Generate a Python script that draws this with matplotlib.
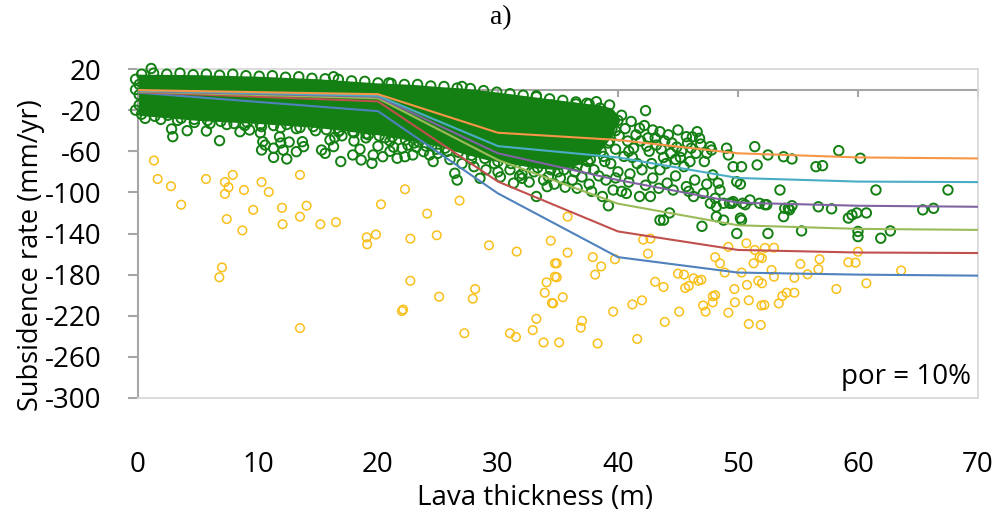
import numpy as np
import matplotlib
matplotlib.use("Agg")
import matplotlib.pyplot as plt

plt.rcParams['axes.unicode_minus'] = False
plt.rcParams['font.family'] = ['Open Sans', 'DejaVu Sans']

# model curves (lava thickness knots, subsidence rate per curve)
knots = [0, 20, 30, 40, 50, 60, 70]
curve_orange = [-0.5, -4.5, -42, -49, -62, -66, -67]
curve_cyan = [-1, -6, -55, -66, -86, -89.5, -90]
curve_purple = [-1.5, -7, -62, -88, -110, -113, -114]
curve_green = [-2, -8.5, -68.5, -111, -132, -135.5, -136.5]
curve_red = [-2.5, -11.5, -89.5, -138, -156, -158.5, -159]
curve_blue = [-3, -21, -101, -163, -178, -180, -181]

# saturated part of the green cloud (envelope)
core_x = [0, 5, 10, 15, 20, 23, 25, 27, 29, 31, 33, 35, 37, 38.5, 39.5, 40]
core_top = [15, 14.5, 13, 10.5, 6.5, 5, 3, 1.5, -1, -4, -7, -10, -13, -15, -18, -25]
core_bot = [-25, -30, -33, -37, -44, -50, -55, -62, -68, -72, -76, -78, -72, -60, -45, -30]

# rings along the top of the saturated cloud
green_top = [
    (0.3, 15), (1.3, 16), (2.4, 15), (3.5, 16), (4.6, 14.5), (5.7, 15), (6.8, 14), (7.9, 15),
    (9, 13.5), (10.1, 13), (11.2, 13.5), (12.3, 12), (13.4, 12.5), (14.5, 11), (15.6, 10.5),
    (16.7, 10), (17.8, 8.5), (18.9, 8), (20, 6.5), (21.1, 6), (22.2, 5), (23.3, 5), (24.4, 3.5),
    (25.5, 3), (26.6, 1.5), (27.7, 1), (28.8, -1), (29.9, -2.5), (31, -4), (32.1, -5.5),
    (33.2, -7), (34.3, -9), (35.4, -10.5), (36.5, -12), (37.6, -14),
    (1.1, 20.5), (16.3, 12.5), (20.9, 6.5), (27, 3), (33.2, -6), (37.4, -13.3), (38.2, -11.8),
    (39.3, -15), (42.3, -20.5), (0.1, 5), (0.1, -5), (0.1, -15), (-0.2, 0), (-0.2, 10),
    (-0.2, -20),
]

# rings along the bottom of the saturated cloud
green_bottom = [
    (0.3, -24), (1.4, -26), (2.5, -25), (3.6, -28), (4.7, -29), (5.8, -30), (6.9, -31),
    (8, -33), (9.1, -32), (10.2, -34), (11.3, -35), (12.4, -34), (13.5, -37), (14.6, -36),
    (15.7, -39), (16.8, -40), (17.9, -41), (19, -43), (20.1, -45), (21.2, -46), (22.3, -49),
    (23.4, -51), (24.5, -54), (25.6, -57), (26.7, -61), (27.8, -64), (28.9, -67), (30, -70),
    (31.1, -72), (32.2, -74), (33.3, -76), (34.4, -78), (35.5, -78), (36.6, -74), (37.7, -68),
    (38.6, -60), (39.3, -50), (39.8, -40), (40, -30),
]

# scattered green rings
green_pts = [
    (2.8, -38.3), (2.9, -45.8), (4.1, -40), (5.7, -40.3), (6.8, -49.7), (8.5, -41), (9.3, -39.3),
    (10.2, -42), (10.4, -50.7), (10.3, -58.8), (10.6, -54), (11.3, -66), (11.3, -57), (11.8, -46),
    (11.9, -52), (12.1, -58.8), (12.6, -51), (12.4, -67.5), (13.2, -60.4), (13.7, -50.7),
    (13.8, -55.5), (15.3, -58.8), (15.6, -62), (16.3, -55.5), (16.4, -46.4), (16.0, -49),
    (16.9, -70), (17.9, -63.6), (18.6, -68.5), (19.5, -71.7), (19.6, -63.6), (20.4, -65.3),
    (21.6, -66.8), (22.25, -65.3), (22.9, -63.6), (23.8, -60.4), (24.3, -63.6), (24.6, -70),
    (26.4, -81.4), (26.6, -88), (28.5, -86.3), (31.3, -91), (32.0, -86.3), (33.2, -104),
    (34.1, -94.4), (34.2, -84.7),
    (17, -45), (18, -50), (19, -47), (20, -55), (21, -50), (22, -57), (23, -52), (18.5, -58),
    (21, -60), (24, -55), (25, -62), (26, -68), (27, -72), (28, -75), (29, -78), (30, -80),
    (31, -78), (32, -82), (33, -80),
    (0.6, -28), (1.9, -29), (3.3, -30), (4.7, -32), (6.0, -33), (7.4, -34), (8.9, -35),
    (10.3, -36), (11.9, -37), (13.2, -38), (14.8, -40), (16.7, -41), (18.0, -42), (19.2, -44),
    (20.6, -47), (21.3, -56), (22.5, -54), (23.2, -56), (24.9, -58), (25.8, -60), (27.8, -68),
    (29.7, -72), (30.2, -85), (31.8, -84), (33.8, -88), (35.2, -86), (32.6, -90), (34.7, -92),
    (34.5, -15), (35, -22), (35.5, -30), (34.8, -38), (35.2, -45), (35.8, -52), (34.6, -60),
    (35.4, -66), (36, -72), (35, -80), (36.2, -88), (35.6, -95),
    (36.5, -14), (37, -20), (36.8, -27), (37.5, -34), (36.6, -41), (37.2, -48), (37.8, -55),
    (36.9, -62), (37.5, -70), (38, -78), (37, -85), (37.6, -92),
    (38.5, -18), (39, -25), (38.7, -32), (39.5, -38), (38.6, -45), (39.2, -52), (39.8, -58),
    (38.8, -65), (39.4, -72), (40, -80), (39, -88), (39.6, -97.7), (39.2, -113),
    (40.3, -25), (41.1, -31), (40.6, -38), (41.5, -44), (40.8, -50), (41.3, -57), (41.8, -37.6),
    (40.5, -65), (41.6, -72), (40.7, -101), (40.3, -99), (41.8, -104),
    (42.9, -39.3), (43.5, -41), (42.5, -47), (43.2, -54), (42.6, -60), (43.8, -66), (42.8, -72),
    (43.5, -78), (42.7, -104), (44.1, -91), (43.8, -127), (44.3, -120), (43.5, -127),
    (45, -39.3), (45.7, -45.8), (44.5, -52), (45.3, -60), (44.8, -68), (45.5, -75), (44.6, -97.7),
    (45.7, -94.4), (46.3, -104),
    (46.6, -41), (46.8, -47.4), (47.7, -55.5), (47.8, -58.8), (46.5, -62), (47.2, -70),
    (47.1, -101), (47.7, -110.6), (47.9, -83), (48.35, -91), (48.5, -97.7), (48.1, -105.7),
    (48.2, -114), (48.8, -110.6), (48.2, -123.6), (48.8, -127), (47.0, -133),
    (36.3, -18), (36.9, -33), (37.8, -40), (38.3, -50), (38.1, -60), (38.9, -70), (37.3, -77),
    (39.7, -30), (40.1, -45), (40.9, -60), (41.2, -66), (41.9, -50), (42.2, -35), (42.4, -55),
    (43.1, -47), (43.6, -58), (43.9, -50), (44.2, -44), (44.4, -62), (44.9, -56), (45.8, -52),
    (46.1, -57), (46.2, -46), (46.9, -53), (47.4, -62), (45.2, -66), (46.0, -70), (44.0, -72),
    (42.0, -78), (41.0, -82), (39.8, -86), (38.4, -84), (36.4, -80), (40.9, -90), (42.9, -86),
    (44.8, -84), (46.4, -88), (47.4, -92), (45.9, -99), (43.4, -96), (42.3, -93), (37.8, -99),
    (36.6, -96), (38.7, -104),
    (49.05, -57), (49.2, -63.6), (51.4, -55.5), (49.6, -75), (50.3, -75), (51.6, -73.3),
    (49.3, -110.6), (49.6, -109), (50.4, -110.6), (51.0, -107.4), (51.8, -110.6), (50.3, -127),
    (50.2, -125), (49.9, -140), (50.2, -92), (49.9, -89.6), (50.6, -112), (49.5, -110.6),
    (52.4, -112), (52.5, -140),
    (52.5, -63.6), (53.8, -65.3), (54.5, -67.5), (58.4, -59.4), (60.2, -66.8), (56.5, -75),
    (57.05, -74), (53.5, -97.7), (61.5, -97.7), (67.5, -97.7), (52.25, -112), (54.2, -115.5),
    (54.5, -113), (53.8, -123.6), (56.7, -114), (57.8, -116), (59.2, -125), (59.5, -122),
    (59.9, -120), (60.7, -120), (65.4, -117), (66.3, -115.5), (53.9, -115.5), (54.3, -117),
    (55.3, -137.5), (60.0, -138), (60.0, -143), (61.9, -144.6), (62.7, -137.5),
]

# yellow points
orange_pts = [
    (1.33, -69), (1.64, -87), (2.75, -94), (3.6, -112), (5.67, -87), (7.25, -90), (7.9, -83),
    (7.55, -95), (7.25, -101.5), (8.83, -97.7), (10.3, -90), (10.9, -99.6), (13.5, -83),
    (9.6, -117), (7.4, -126), (12.0, -115), (13.5, -123.6), (14.05, -113), (12.05, -131),
    (15.2, -131), (16.5, -129), (8.7, -137), (7.0, -173), (6.78, -182.6), (13.5, -232),
    (19.06, -143.7), (19.1, -150.5), (19.83, -141), (22.7, -145), (24.9, -141.7), (29.25, -151.5),
    (31.56, -157.6), (34.4, -147), (22.7, -186), (25.1, -201.5), (28.1, -194), (27.9, -203.4),
    (22.1, -214), (22.0, -215.4), (27.2, -237), (31.0, -237), (31.5, -240.7), (32.9, -234),
    (33.2, -223), (33.8, -246), (34.05, -187.5), (33.9, -197.6), (34.5, -207.6), (34.75, -169),
    (34.75, -182), (35.1, -246), (22.25, -97), (20.25, -111.6), (24.1, -120.7), (26.8, -108),
    (35.8, -158.6), (35.4, -202), (37.0, -225), (36.9, -231.6), (38.3, -247), (37.9, -163),
    (38.6, -172), (38.1, -180), (39.75, -165), (42.1, -146), (42.7, -145), (42.5, -159.6),
    (39.6, -216), (41.2, -209), (42.0, -205), (41.6, -242.6), (43.1, -187), (43.8, -192),
    (45.1, -216), (43.9, -226), (45.0, -179), (45.5, -180), (45.6, -193), (45.9, -191),
    (46.3, -183.6), (46.7, -186), (46.95, -185), (47.1, -210), (47.3, -216), (47.9, -201),
    (48.1, -200), (47.9, -207), (48.1, -163), (48.5, -169), (48.9, -178), (49.2, -217),
    (49.7, -194), (49.75, -207), (49.2, -153), (50.3, -178), (50.75, -190), (50.9, -205),
    (50.9, -228), (51.9, -229), (50.7, -149.5), (51.3, -169), (51.8, -163), (51.4, -156),
    (51.96, -210), (51.7, -186), (52.0, -188.4), (52.0, -164), (52.25, -154), (53.0, -153.8),
    (52.8, -175.5), (53.0, -182), (52.2, -209.5), (53.4, -208), (53.7, -200.8), (54.05, -197.6),
    (54.7, -197.6), (54.7, -183), (55.2, -169.6), (55.8, -179.7), (56.7, -174.8), (56.8, -165),
    (58.2, -194), (59.2, -168), (59.8, -168.4), (60.0, -157.7), (60.7, -188.4), (63.6, -176),
    (35.8, -123.6), (34.9, -169), (34.9, -182.6), (34.6, -208),
]

y_ticks = [20, -20, -60, -100, -140, -180, -220, -260, -300]
x_ticks = [0, 10, 20, 30, 40, 50, 60, 70]

fig = plt.figure(figsize=(10.02, 5.15), dpi=100)
ax = fig.add_axes([0.1377, 0.2272, 0.8383, 0.6388])

dark_green = '#148014'
ax.fill_between(core_x, core_bot, core_top, color=dark_green, lw=0, zorder=2)
for pts in (green_top, green_bottom, green_pts):
    gx, gy = zip(*pts)
    ax.scatter(gx, gy, s=46, facecolors='none', edgecolors=dark_green, linewidths=1.4,
               zorder=3, clip_on=False)
ox, oy = zip(*orange_pts)
ax.scatter(ox, oy, s=38, facecolors='none', edgecolors='#F9BF1A', linewidths=1.1, zorder=3)

curves = [(curve_blue, '#4F81BD'), (curve_red, '#C0504D'), (curve_green, '#9BBB59'),
          (curve_purple, '#8064A2'), (curve_cyan, '#4BACC6'), (curve_orange, '#F79646')]
for vals, col in curves:
    ax.plot(knots, vals, color=col, lw=1.5, zorder=4)

ax.set_xlim(0, 70)
ax.set_ylim(-300, 20)

# frame
for side in ['top', 'right', 'bottom']:
    ax.spines[side].set_color('#D9D9D9')
    ax.spines[side].set_linewidth(1.3)
ax.spines['left'].set_color('#A6A6A6')
ax.spines['left'].set_linewidth(1.5)

ax.set_yticks(y_ticks)
ax.set_yticklabels([str(v) for v in y_ticks])
ax.tick_params(axis='y', direction='out', length=7, width=1.5, color='#A6A6A6',
               labelsize=20, pad=19, labelcolor='#000000')
ax.set_xticks(x_ticks)
ax.set_xticklabels([str(v) for v in x_ticks])
ax.tick_params(axis='x', length=0, labelsize=20, pad=38)

# horizontal axis line at zero with ticks
zero_ax = ax.secondary_xaxis(0, transform=ax.transData)
zero_ax.spines['bottom'].set_color('#A6A6A6')
zero_ax.spines['bottom'].set_linewidth(1.5)
zero_ax.set_xticks(x_ticks)
zero_ax.tick_params(axis='x', direction='out', length=5, width=1.5, color='#A6A6A6',
                    labelbottom=False)

ax.set_xlabel('Lava thickness (m)', fontsize=20)
ax.xaxis.set_label_coords(0.4726, -0.262)
ax.set_ylabel('Subsidence rate (mm/yr)', fontsize=19.5)
ax.yaxis.set_label_coords(-0.111, 0.435)
ax.text(0.992, 0.02, 'por = 10%', transform=ax.transAxes, ha='right', va='bottom', fontsize=20)

fig.text(0.5, 0.965, 'a)', ha='center', va='center', fontsize=20, family='Liberation Serif')

fig.savefig('out.png', dpi=100)
